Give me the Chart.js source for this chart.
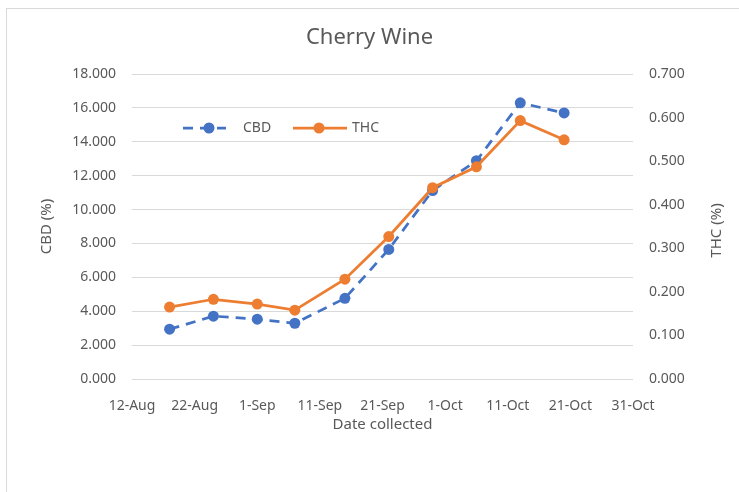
<!DOCTYPE html>
<html>
<head>
<meta charset="utf-8">
<script src="https://cdn.jsdelivr.net/npm/chart.js@4.4.0/dist/chart.umd.min.js"></script>
<style>
  body { margin: 0; background: #fff; }
  #wrap { position: relative; width: 739px; height: 492px; overflow: hidden; }
  #frame { position: absolute; left: 6px; top: 8px; width: 760px; height: 500px; border-left: 1px solid #d9d9d9; border-top: 1px solid #d9d9d9; }
  canvas { position: absolute; left: 0; top: 0; }
</style>
</head>
<body>
<div id="wrap">
  <div id="frame"></div>
  <canvas id="myChart" width="739" height="492"></canvas>
</div>
<script>
// data
const startDate = '2019-08-12';
const sampleDates = ['2019-08-18', '2019-08-25', '2019-09-01', '2019-09-07', '2019-09-15',
                     '2019-09-22', '2019-09-29', '2019-10-06', '2019-10-13', '2019-10-20'];
const cbdValues = [2.94, 3.71, 3.53, 3.29, 4.76, 7.65, 11.12, 12.88, 16.3, 15.7];
const thcValues = [0.165, 0.183, 0.172, 0.158, 0.229, 0.327, 0.439, 0.487, 0.593, 0.549];
const xTickLabels = ['12-Aug', '22-Aug', '1-Sep', '11-Sep', '21-Sep', '1-Oct', '11-Oct', '21-Oct', '31-Oct'];
const rightTitle = 'THC (%)';

const grey = '#595959';
const blue = '#4472C4';
const orange = '#ED7D31';

function dayOffset(d) {
    return (Date.parse(d) - Date.parse(startDate)) / 86400000;
}

function points(values) {
    return values.map((v, i) => ({ x: dayOffset(sampleDates[i]), y: v }));
}

Chart.defaults.font.family = "'Noto Sans', sans-serif";
Chart.defaults.color = grey;

// legend drawn inside the plot, like the excel one
// + right axis title turned the excel way (reads bottom to top)
const extras = {
    id: 'extras',
    afterDatasetsDraw(chart) {
        const ctx = chart.ctx;
        const area = chart.chartArea;
        const y = area.top + 54;
        const items = [
            { ds: 0, x: area.left + 51, w: 43, dot: 26, tx: area.left + 111 },
            { ds: 1, x: area.left + 161, w: 54, dot: 26, tx: area.left + 220 }
        ];
        ctx.save();
        items.forEach(it => {
            const ds = chart.data.datasets[it.ds];
            ctx.strokeStyle = ds.borderColor;
            ctx.fillStyle = ds.borderColor;
            ctx.lineWidth = ds.borderWidth;
            ctx.setLineDash(ds.borderDash || []);
            ctx.beginPath();
            ctx.moveTo(it.x, y);
            ctx.lineTo(it.x + it.w, y);
            ctx.stroke();
            ctx.setLineDash([]);
            ctx.beginPath();
            ctx.arc(it.x + it.dot, y, ds.pointRadius, 0, Math.PI * 2);
            ctx.fill();
            ctx.fillStyle = grey;
            ctx.font = "14px 'Noto Sans', sans-serif";
            ctx.textBaseline = 'middle';
            ctx.textAlign = 'left';
            ctx.fillText(ds.label, it.tx, y);
        });

        const r = chart.scales.y1;
        ctx.translate(r.right - 22, (area.top + area.bottom) / 2 + 4);
        ctx.rotate(-Math.PI / 2);
        ctx.font = "15px 'Noto Sans', sans-serif";
        ctx.fillStyle = grey;
        ctx.textAlign = 'center';
        ctx.textBaseline = 'middle';
        ctx.fillText(rightTitle, 0, 0);
        ctx.restore();
    }
};

const config = {
    type: 'line',
    data: {
        datasets: [
            {
                label: 'CBD',
                data: points(cbdValues),
                yAxisID: 'y',
                borderColor: blue,
                backgroundColor: blue,
                borderWidth: 2.75,
                borderDash: [10, 7],
                pointRadius: 5.5,
                pointBorderWidth: 0,
                order: 1
            },
            {
                label: 'THC',
                data: points(thcValues),
                yAxisID: 'y1',
                borderColor: orange,
                backgroundColor: orange,
                borderWidth: 2.75,
                pointRadius: 5.5,
                pointBorderWidth: 0,
                order: 0
            }
        ]
    },
    options: {
        responsive: false,
        animation: false,
        devicePixelRatio: 1,
        layout: { padding: 0 },
        plugins: {
            legend: { display: false },
            tooltip: { enabled: false },
            title: {
                display: true,
                text: 'Cherry Wine',
                color: grey,
                font: { size: 22, weight: 'normal' },
                padding: { top: 25, bottom: 22.6 }
            }
        },
        scales: {
            x: {
                type: 'linear',
                min: 0,
                max: 80,
                afterFit: s => { s.height = 113; },
                grid: { display: false },
                border: { display: false },
                ticks: {
                    stepSize: 10,
                    autoSkip: false,
                    maxRotation: 0,
                    padding: 11,
                    font: { size: 14 },
                    callback: (v, i) => xTickLabels[i]
                },
                title: {
                    display: true,
                    text: 'Date collected',
                    font: { size: 15 },
                    padding: { top: 0, bottom: 58 }
                }
            },
            y: {
                position: 'left',
                min: 0,
                max: 18,
                afterFit: s => { s.width = 132; },
                grid: { color: '#d9d9d9', drawTicks: false },
                border: { display: false },
                ticks: {
                    stepSize: 2,
                    padding: 16,
                    font: { size: 14 },
                    callback: v => v.toFixed(3)
                },
                title: {
                    display: true,
                    text: 'CBD (%)',
                    font: { size: 15 },
                    padding: { top: 38, bottom: 0 }
                }
            },
            y1: {
                position: 'right',
                min: 0,
                max: 0.7,
                afterFit: s => { s.width = 106; },
                grid: { drawOnChartArea: false, drawTicks: false },
                border: { display: false },
                ticks: {
                    stepSize: 0.1,
                    padding: 16,
                    font: { size: 14 },
                    callback: v => v.toFixed(3)
                },
                title: { display: false }
            }
        }
    },
    plugins: [extras]
};

var myChart = new Chart(document.getElementById('myChart'), config);
</script>
</body>
</html>
